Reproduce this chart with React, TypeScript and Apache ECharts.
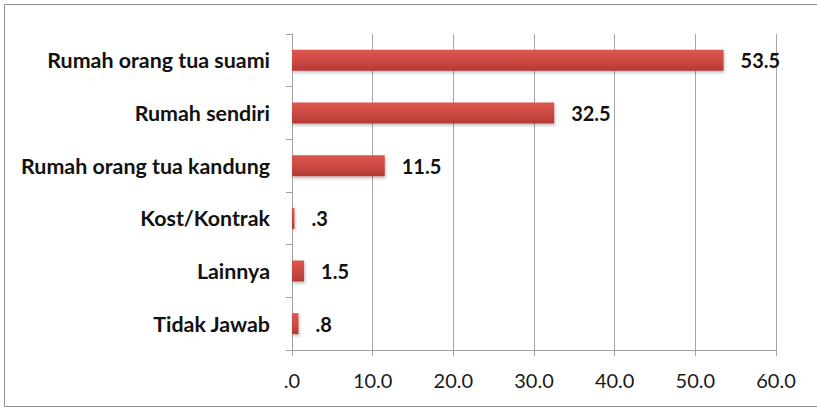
import React, { useEffect, useRef } from "react";
import * as echarts from "echarts";

const categories = [
  "Rumah orang tua suami",
  "Rumah sendiri",
  "Rumah orang tua kandung",
  "Kost/Kontrak",
  "Lainnya",
  "Tidak Jawab",
];
const values = [53.5, 32.5, 11.5, 0.3, 1.5, 0.8];
const axisMin = 0;
const axisMax = 60;
const axisInterval = 10;

const fmt = (v: number) => {
  const s = Number(v).toFixed(1);
  return s.startsWith("0") ? s.slice(1) : s;
};

export default function App() {
  const ref = useRef<HTMLDivElement>(null);
  useEffect(() => {
    document.body.style.margin = "0";
    const chart = echarts.init(ref.current!, null, { renderer: "svg" });
    chart.setOption({
      animation: false,
      backgroundColor: "#ffffff",
      graphic: [
        {
          type: "rect",
          shape: { x: 4.5, y: 4.5, width: 830, height: 402 },
          style: { fill: "none", stroke: "#8f8f8f", lineWidth: 1 },
          silent: true,
        },
      ],
      grid: { left: 292, right: 41, top: 34, bottom: 58, containLabel: false },
      xAxis: {
        type: "value",
        min: axisMin,
        max: axisMax,
        interval: axisInterval,
        axisLine: { show: true, lineStyle: { color: "#a0a0a0", width: 1 } },
        axisTick: { show: true, length: 6, lineStyle: { color: "#a0a0a0" } },
        splitLine: { show: true, lineStyle: { color: "#a6a6a6", width: 1 } },
        axisLabel: {
          formatter: (v: number) => fmt(v),
          color: "#1a1a1a",
          fontFamily: "Lato",
          fontSize: 20,
          margin: 20,
        },
      },
      yAxis: {
        type: "category",
        data: categories,
        inverse: true,
        axisLine: { show: true, lineStyle: { color: "#a0a0a0", width: 1 } },
        axisTick: { show: true, length: 6, lineStyle: { color: "#a0a0a0" } },
        axisLabel: {
          color: "#111111",
          fontFamily: "Lato",
          fontWeight: "bold",
          fontSize: 21.4,
          margin: 22,
        },
      },
      series: [
        {
          type: "bar",
          data: values,
          barWidth: 21,
          itemStyle: {
            color: new echarts.graphic.LinearGradient(0, 0, 0, 1, [
              { offset: 0, color: "#dc554d" },
              { offset: 0.5, color: "#cc4a43" },
              { offset: 1, color: "#b23a34" },
            ]),
            shadowColor: "rgba(0,0,0,0.25)",
            shadowBlur: 3,
            shadowOffsetX: 1,
            shadowOffsetY: 2,
          },
          label: {
            show: true,
            position: "right",
            distance: 17,
            formatter: (p: any) => fmt(p.value),
            color: "#111111",
            fontFamily: "Lato",
            fontWeight: "bold",
            fontSize: 20,
          },
        },
      ],
    });
    return () => chart.dispose();
  }, []);
  return (
    <div
      ref={ref}
      style={{ position: "fixed", left: 0, top: 0, width: 817, height: 408 }}
    />
  );
}
